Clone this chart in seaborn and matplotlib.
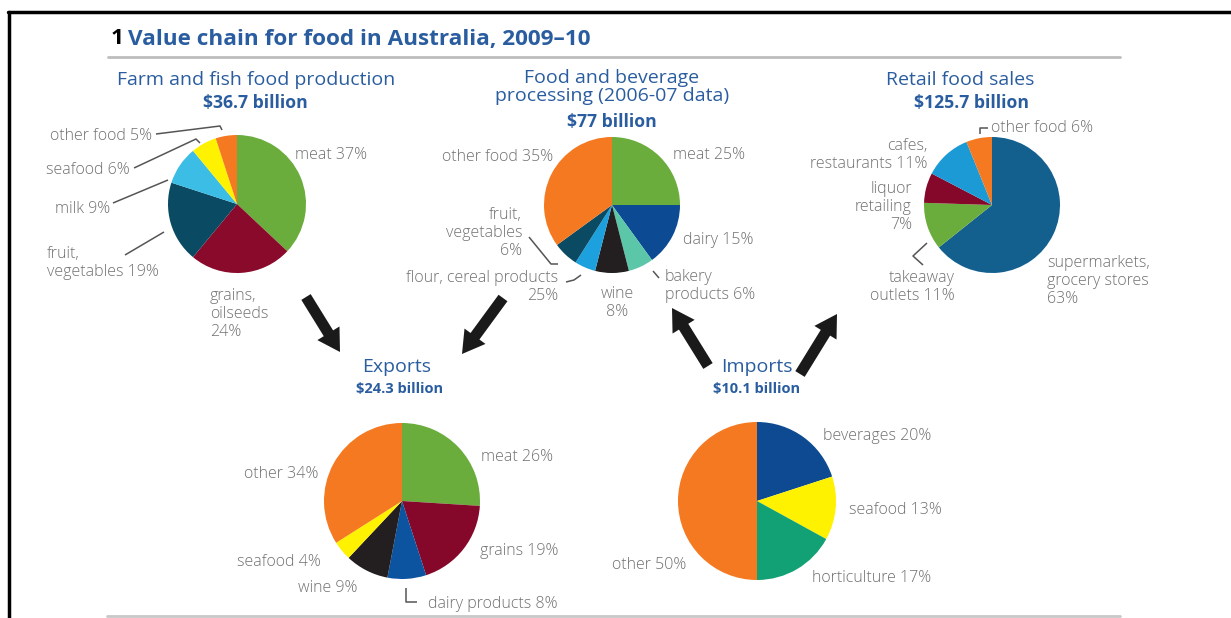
import matplotlib
matplotlib.use("Agg")
import matplotlib.pyplot as plt
import seaborn as sns

# slice values (clockwise from 12 o'clock)
farm_values = [37, 24, 19, 9, 6, 5]
farm_labels = ["meat 37%", "grains,\noilseeds\n24%", "fruit,\nvegetables 19%",
               "milk 9%", "seafood 6%", "other food 5%"]
farm_colors = ["#6aad3d", "#8a0a2c", "#0b4a63", "#3cbde6", "#fff200", "#f47920"]

proc_values = [25, 15, 6, 8, 5, 6, 35]
proc_labels = ["meat 25%", "dairy 15%", "bakery\nproducts 6%", "wine\n8%",
               "flour, cereal products\n25%", "fruit,\nvegetables\n6%", "other food 35%"]
proc_colors = ["#6aad3d", "#0c4b93", "#5cc6a8", "#231f20", "#1ca0de", "#0b4a63", "#f47920"]

retail_values = [63, 11, 7, 11, 6]
retail_labels = ["supermarkets,\ngrocery stores\n63%", "takeaway\noutlets 11%",
                 "liquor\nretailing\n7%", "cafes,\nrestaurants 11%", "other food 6%"]
retail_colors = ["#13608f", "#6aad3d", "#85082a", "#1b9ad6", "#f47920"]

export_values = [26, 19, 8, 9, 4, 34]
export_labels = ["meat 26%", "grains 19%", "dairy products 8%", "wine 9%",
                 "seafood 4%", "other 34%"]
export_colors = ["#6aad3d", "#85082a", "#0c53a0", "#231f20", "#fff200", "#f47920"]

import_values = [20, 13, 17, 50]
import_labels = ["beverages 20%", "seafood 13%", "horticulture 17%", "other 50%"]
import_colors = ["#0d4a91", "#fff200", "#12a174", "#f47920"]

headings = [
    ("Farm and fish food production", "$36.7 billion"),
    ("Food and beverage\nprocessing (2006-07 data)", "$77 billion"),
    ("Retail food sales", "$125.7 billion"),
    ("Exports", "$24.3 billion"),
    ("Imports", "$10.1 billion"),
]

BLUE = "#2a5d9f"
GREY = "#707070"

sns.set_theme(style="white")
plt.rcParams["font.family"] = ["Open Sans", "DejaVu Sans"]

fig = plt.figure(figsize=(12.31, 6.18), dpi=100)
ax = fig.add_axes([0, 0, 1, 1])


def draw_pie(values, colors, center, radius):
    # y axis is flipped, so counterclock in data = clockwise on screen
    ax.pie(values, colors=colors, center=center, radius=radius,
           startangle=-90, counterclock=True,
           wedgeprops=dict(linewidth=0))


draw_pie(farm_values, farm_colors, (237, 204), 69)
draw_pie(proc_values, proc_colors, (612, 205), 68)
draw_pie(retail_values, retail_colors, (992, 205), 68)
draw_pie(export_values, export_colors, (402, 501), 78)
draw_pie(import_values, import_colors, (757, 501), 79)


def label(txt, x, y, ha="left"):
    ax.text(x, y, txt, ha=ha, va="center", color=GREY, fontsize=11.5,
            fontweight="light", linespacing=1.15)


def leader(xs, ys):
    ax.plot(xs, ys, color="#555555", lw=1.1, solid_capstyle="butt")


# farm
label(farm_labels[0], 295, 155)
label(farm_labels[1], 210, 314)
label(farm_labels[2], 47, 263)
label(farm_labels[3], 110, 209, ha="right")
label(farm_labels[4], 130, 170, ha="right")
label(farm_labels[5], 152, 136, ha="right")
leader([156, 220, 222], [134, 126, 130])
leader([134, 196, 200], [168, 139, 143])
leader([113, 168], [203, 180])
leader([125, 164], [255, 232])

# processing
label(proc_labels[0], 673, 155)
label(proc_labels[1], 683, 240)
label(proc_labels[2], 665, 286)
label(proc_labels[3], 617, 303, ha="center")
label(proc_labels[4], 558, 287, ha="right")
label(proc_labels[5], 522, 233, ha="right")
label(proc_labels[6], 553, 157, ha="right")
leader([529, 551, 558], [237, 264, 264])
leader([566, 574, 581], [282, 280, 275])
leader([653, 659], [271, 278])

# retail
label(retail_labels[0], 1047, 281)
label(retail_labels[1], 955, 287, ha="right")
label(retail_labels[2], 912, 207, ha="right")
label(retail_labels[3], 928, 155, ha="right")
label(retail_labels[4], 991, 128)
leader([988, 980, 980], [128, 128, 134])
leader([927, 913, 923], [243, 256, 265])

# exports
label(export_labels[0], 481, 457)
label(export_labels[1], 480, 551)
label(export_labels[2], 428, 604)
label(export_labels[3], 358, 588, ha="right")
label(export_labels[4], 321, 562, ha="right")
label(export_labels[5], 318, 474, ha="right")
leader([406, 406, 417], [588, 602, 602])

# imports
label(import_labels[0], 823, 436)
label(import_labels[1], 849, 510)
label(import_labels[2], 812, 578)
label(import_labels[3], 686, 565, ha="right")

# headings
head_pos = [(256, 80), (612, 87), (960, 80), (397, 367), (757, 367)]
sub_pos = [(255, 103), (612, 122), (972, 103), (400, 389), (757, 389)]
for i, ((h, s), (hx, hy), (sx, sy)) in enumerate(zip(headings, head_pos, sub_pos)):
    ax.text(hx, hy, h, ha="center", va="center", color=BLUE, fontsize=14,
            linespacing=0.95)
    ax.text(sx, sy, s, ha="center", va="center", color=BLUE,
            fontsize=12.7 if i < 3 else 10.5, fontweight="bold")

# arrows
arrows = [((306, 297), (340, 352)), ((503, 298), (462, 354)),
          ((708, 366), (672, 308)), ((800, 374), (837, 314))]
for (x0, y0), (x1, y1) in arrows:
    ax.arrow(x0, y0, x1 - x0, y1 - y0, width=11, head_width=26, head_length=22,
             length_includes_head=True, color="#1a1a1a", lw=0)

# title
ax.text(111, 39, "1", ha="left", va="center", color="black", fontsize=16.2,
        fontweight="bold")
ax.text(128, 39, "Value chain for food in Australia, 2009\u201310", ha="left",
        va="center", color=BLUE, fontsize=16.2, fontweight="bold")
ax.plot([108, 1120], [57, 57], color="#bdbdbd", lw=2)
ax.plot([107, 1120], [616, 616], color="#c8c8c8", lw=2)

# outer frame
ax.plot([8, 1231], [12, 12], color="black", lw=2.5)
ax.plot([9, 9], [12, 618], color="black", lw=2.5)

ax.set_xlim(0, 1231)
ax.set_ylim(618, 0)
ax.set_aspect("auto")
ax.axis("off")

fig.savefig("out.png", dpi=100)
